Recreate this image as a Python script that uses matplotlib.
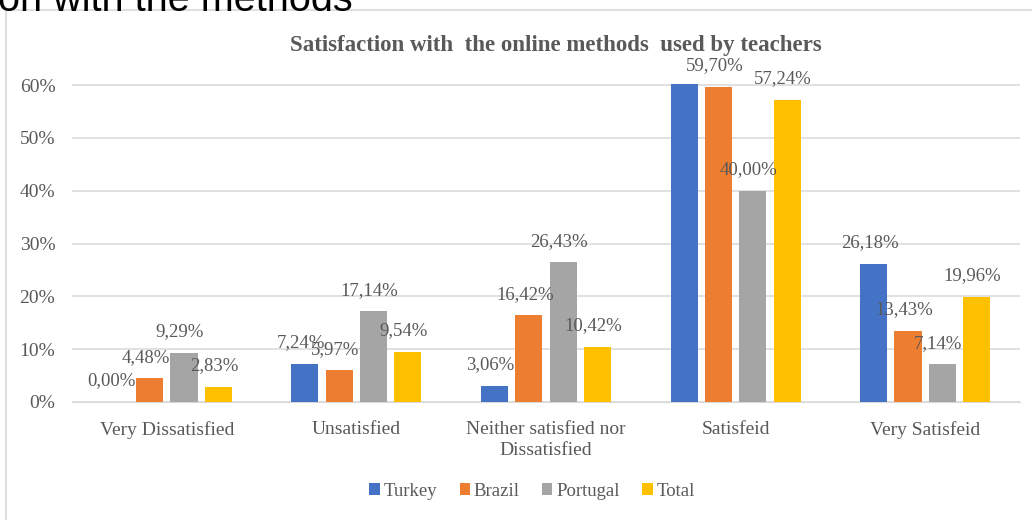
import numpy as np
import matplotlib.pyplot as plt
from matplotlib.patches import Rectangle

plt.close("all")

# Data
categories = ["Very Dissatisfied", "Unsatisfied", "Neither satisfied nor\nDissatisfied",
              "Satisfeid", "Very Satisfeid"]
series_names = ["Turkey", "Brazil", "Portugal", "Total"]
turkey = [0.00, 7.24, 3.06, 60.20, 26.18]
brazil = [4.48, 5.97, 16.42, 59.70, 13.43]
portugal = [9.29, 17.14, 26.43, 40.00, 7.14]
total = [2.83, 9.54, 10.42, 57.24, 19.96]
# the Turkey "Satisfied" label is not visible in the source
show_label = [[True, True, True, False, True],
              [True] * 5, [True] * 5, [True] * 5]
yticks = [0, 10, 20, 30, 40, 50, 60]

colors = ["#4472C4", "#ED7D31", "#A5A5A5", "#FFC000"]
text_col = "#595959"
grid_col = "#D9D9D9"
serif = "Liberation Serif"

W, H = 1032, 520
fig = plt.figure(figsize=(W / 100, H / 100), dpi=100)

# page text cut off at the top
fig.text(-2 / W, 1 - 11 / H, "on with the methods", fontsize=28.5,
         family="Liberation Sans", color="black", va="baseline", ha="left")

# chart border
fig.patches.append(Rectangle((5.5 / W, -0.1), 1.2, 1 - 9.5 / H + 0.1,
                             transform=fig.transFigure, fill=False,
                             edgecolor=grid_col, linewidth=1.2))

px0, px1 = 72, 1020
y0, y60 = 402, 85
ytop = 62
per = (y0 - y60) / 60.0
ax = fig.add_axes([px0 / W, (H - y0) / H, (px1 - px0) / W, ytop * per / H])

x = np.arange(len(categories))
width = 0.143
pitch = 0.181
all_series = [turkey, brazil, portugal, total]
for i, (name, vals) in enumerate(zip(series_names, all_series)):
    off = (i - 1.5) * pitch
    ax.bar(x + off, vals, width, color=colors[i], label=name, zorder=3)
    for j, v in enumerate(vals):
        if not show_label[i][j]:
            continue
        ax.annotate(f"{v:.2f}%".replace(".", ","), (x[j] + off, v),
                    xytext=(-4, 21), textcoords="offset pixels",
                    ha="center", va="center", fontsize=13.5,
                    family=serif, color=text_col, zorder=4)

ax.set_xlim(-0.5, len(categories) - 0.5)
ax.set_ylim(0, ytop)
ax.set_yticks(yticks)
ax.set_yticklabels([f"{t}%" for t in yticks])
ax.yaxis.grid(True, color=grid_col, linewidth=1.1, zorder=0)
ax.set_xticks(x)
ax.set_xticklabels(categories, linespacing=1.25)
ax.tick_params(length=0, labelcolor=text_col, labelsize=14)
ax.tick_params(axis="y", pad=12)
ax.tick_params(axis="x", pad=14)
for lbl in ax.get_xticklabels() + ax.get_yticklabels():
    lbl.set_family(serif)
for s in ["top", "right", "left"]:
    ax.spines[s].set_visible(False)
ax.spines["bottom"].set_color(grid_col)
ax.spines["bottom"].set_zorder(2)

fig.text(556 / W, 1 - 46 / H, "Satisfaction with  the online methods  used by teachers",
         ha="center", va="center", fontsize=16.5, fontweight="bold",
         family=serif, color=text_col)

handles, labels = ax.get_legend_handles_labels()
leg = fig.legend(handles, labels, loc="center", bbox_to_anchor=(532 / W, 1 - 491 / H),
                 ncol=4, frameon=False, handlelength=0.55, handleheight=0.55,
                 handletextpad=0.2, columnspacing=1.2,
                 prop={"family": serif, "size": 13.5})
for t in leg.get_texts():
    t.set_color(text_col)

fig.savefig("out.png", dpi=100)
